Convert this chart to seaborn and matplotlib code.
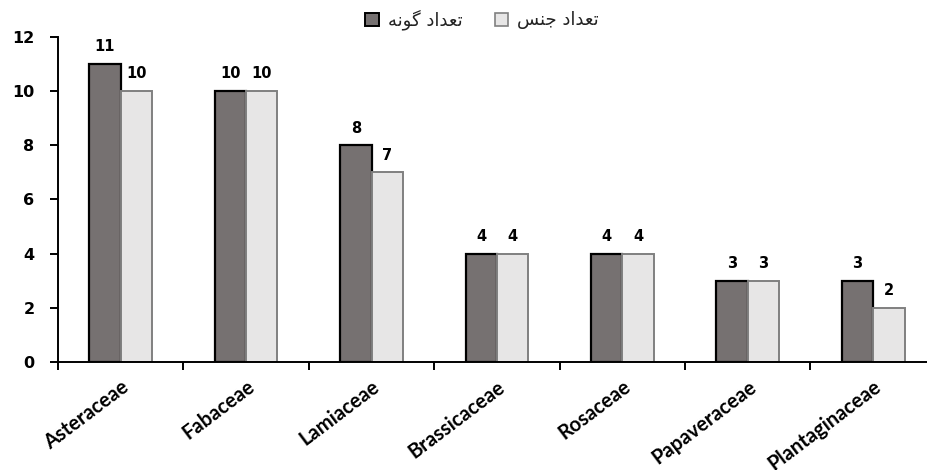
#!/usr/bin/env python3
"""Species and genus counts per plant family, grouped bar chart."""

import matplotlib

matplotlib.use("Agg")

import matplotlib.pyplot as plt
import pandas as pd
import seaborn as sns
from matplotlib.patches import Patch

OUTPUT_PATH = "out.png"

FAMILIES = [
    "Asteraceae",
    "Fabaceae",
    "Lamiaceae",
    "Brassicaceae",
    "Rosaceae",
    "Papaveraceae",
    "Plantaginaceae",
]
SPECIES_COUNTS = [11, 10, 8, 4, 4, 3, 3]
GENUS_COUNTS = [10, 10, 7, 4, 4, 3, 2]

# Persian labels written in shaped presentation forms (visual order),
# since matplotlib does no Arabic shaping on its own.
SPECIES_LABEL = "\uFEEA\uFEE7\uFEEE\uFB94 \uFEA9\uFE8D\uFEAA\uFECC\uFE97"  # تعداد گونه
GENUS_LABEL = "\uFEB2\uFEE8\uFE9F \uFEA9\uFE8D\uFEAA\uFECC\uFE97"  # تعداد جنس

DARK = "#767171"
LIGHT = "#E7E6E6"
LIGHT_EDGE = "#808080"


def main() -> None:
    sns.set_theme(style="white")
    plt.rcParams["font.family"] = ["DejaVu Sans"]

    frame = pd.DataFrame(
        {
            "family": FAMILIES * 2,
            "count": SPECIES_COUNTS + GENUS_COUNTS,
            "kind": [SPECIES_LABEL] * len(FAMILIES) + [GENUS_LABEL] * len(FAMILIES),
        }
    )

    fig = plt.figure(figsize=(9.27, 4.70), dpi=100)
    ax = fig.add_axes([0.0626, 0.2298, 0.947, 0.6915])

    sns.barplot(
        data=frame,
        x="family",
        y="count",
        hue="kind",
        order=FAMILIES,
        hue_order=[SPECIES_LABEL, GENUS_LABEL],
        palette=[DARK, LIGHT],
        width=0.5,
        gap=0,
        saturation=1,
        errorbar=None,
        legend=False,
        ax=ax,
    )

    edge_styles = [("black", 1.6), (LIGHT_EDGE, 1.4)]
    for container, (edge, lw) in zip(ax.containers, edge_styles):
        for bar in container:
            bar.set_edgecolor(edge)
            bar.set_linewidth(lw)
        ax.bar_label(container, padding=7, fontsize=10.5, fontweight="bold", color="black")

    ax.set_xlim(-0.5, len(FAMILIES) - 0.5)
    ax.set_ylim(0, 12)
    ax.set_yticks(range(0, 13, 2))
    ax.set_xlabel("")
    ax.set_ylabel("")

    for side in ("top", "right"):
        ax.spines[side].set_visible(False)
    for side in ("left", "bottom"):
        ax.spines[side].set_color("black")
        ax.spines[side].set_linewidth(1.4)

    ax.set_xticks(range(len(FAMILIES)))
    ax.set_xticks([i - 0.5 for i in range(len(FAMILIES) + 1)], minor=True)
    ax.tick_params(axis="x", which="major", bottom=False, length=0, pad=10.5)
    ax.tick_params(axis="x", which="minor", bottom=True, direction="out", length=6, width=1.4, color="black")
    ax.tick_params(axis="y", left=True, direction="out", length=6, width=1.4, color="black",
                   labelsize=11.5, labelcolor="black", pad=11)
    for label in ax.get_yticklabels():
        label.set_fontweight("bold")

    ax.set_xticklabels(
        FAMILIES,
        rotation=37,
        ha="right",
        va="top",
        rotation_mode="anchor",
        fontsize=14.5,
        fontweight="bold",
        color="black",
        family=["Lato", "DejaVu Sans"],
    )

    handles = [
        Patch(facecolor=DARK, edgecolor="black", linewidth=1.4, label=SPECIES_LABEL),
        Patch(facecolor=LIGHT, edgecolor=LIGHT_EDGE, linewidth=1.2, label=GENUS_LABEL),
    ]
    fig.legend(
        handles=handles,
        loc="center",
        bbox_to_anchor=(0.52, 0.958),
        ncol=2,
        frameon=False,
        fontsize=13,
        labelcolor="#222222",
        handlelength=0.75,
        handleheight=0.75,
        handletextpad=0.5,
        columnspacing=1.8,
    )

    fig.savefig(OUTPUT_PATH, dpi=100)
    plt.close(fig)


if __name__ == "__main__":
    main()
